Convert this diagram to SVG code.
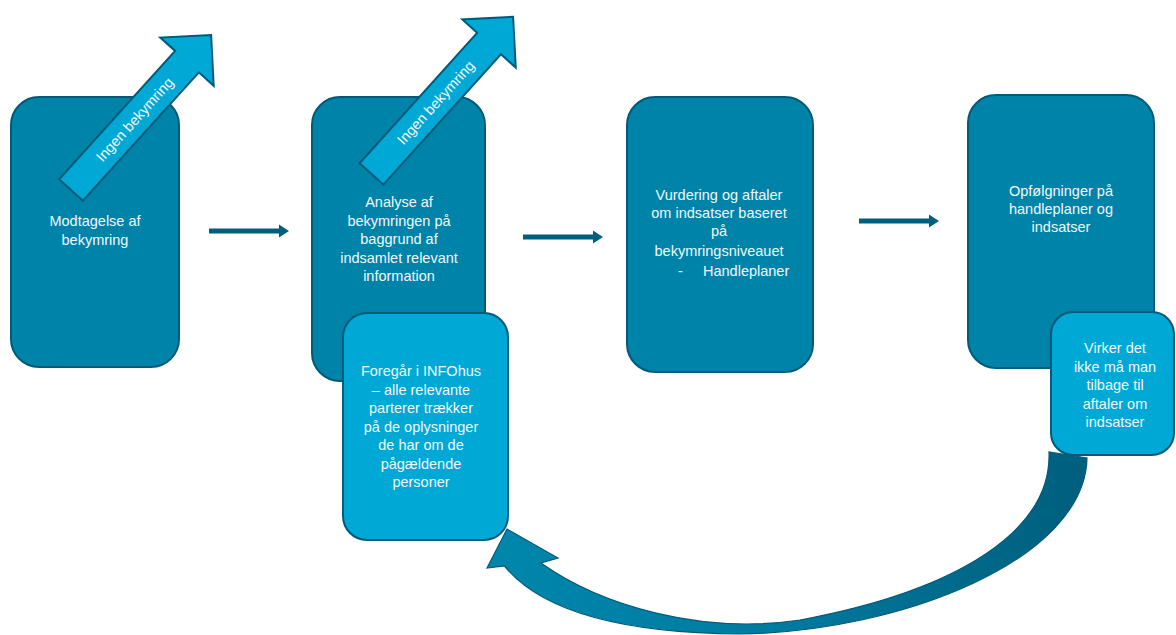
<svg xmlns="http://www.w3.org/2000/svg" width="1176" height="635" viewBox="0 0 1176 635">
  <defs>
    <style>
      .box { fill: #0083A9; stroke: #005A78; stroke-width: 2; }
      .sub { fill: #00A8D6; stroke: #005A78; stroke-width: 2; }
      .up { fill: #00A8D6; stroke: #005A78; stroke-width: 2; stroke-linejoin: miter; }
      .harrow { fill: #005F7F; }
      .t { font-family: "Liberation Sans", Arial, sans-serif; font-size: 14.5px; fill: #F2F8FB; text-anchor: middle; }
      .ts { font-family: "Liberation Sans", Arial, sans-serif; font-size: 14.5px; fill: #F2F8FB; }
    </style>
    <linearGradient id="curveGrad" x1="0" y1="0" x2="1" y2="0">
      <stop offset="0" stop-color="#0086AC"/>
      <stop offset="0.45" stop-color="#007CA2"/>
      <stop offset="1" stop-color="#005E7D"/>
    </linearGradient>
  </defs>

  <!-- curved feedback connector (behind boxes) -->
  <g id="connectors">
    <path d="M 1049 452 C 1052 530 960 590 800 620 C 700 635 600 605 541 563 L 558 558 L 507 529 L 487 568 L 504.5 566 C 540 610 620 633 740 634 C 900 632 1085 560 1087 458 Z" fill="url(#curveGrad)" stroke="#005A78" stroke-width="1.2"/>
    <polygon class="harrow" points="209,228.5 279,228.5 279,224.5 289,231 279,237.5 279,233.5 209,233.5"/>
    <polygon class="harrow" points="523,234.5 593,234.5 593,230.5 603,237 593,243.5 593,239.5 523,239.5"/>
    <polygon class="harrow" points="859,218.5 929,218.5 929,214.5 939,221 929,227.5 929,223.5 859,223.5"/>
  </g>

  <g id="node-modtagelse">
    <rect class="box" x="11" y="97" width="168" height="270" rx="28" ry="28"/>
    <text class="t" x="95" y="226">Modtagelse af</text>
    <text class="t" x="95" y="245">bekymring</text>
  </g>

  <g id="arrow-ingen-1" transform="translate(71,190) rotate(-47.9)">
    <polygon class="up" points="0,-16 173,-16 173,-36 209,0 173,36 173,16 0,16"/>
    <text class="t" x="95" y="5">Ingen bekymring</text>
  </g>

  <g id="node-analyse">
    <rect class="box" x="312" y="97" width="173" height="284" rx="28" ry="28"/>
    <text class="t" x="399" y="207">Analyse af</text>
    <text class="t" x="399" y="225.5">bekymringen på</text>
    <text class="t" x="399" y="244">baggrund af</text>
    <text class="t" x="399" y="262.5">indsamlet relevant</text>
    <text class="t" x="399" y="281">information</text>
  </g>

  <g id="arrow-ingen-2" transform="translate(371.5,174) rotate(-48)">
    <polygon class="up" points="0,-16 175.6,-16 175.6,-36 211.6,0 175.6,36 175.6,16 0,16"/>
    <text class="t" x="96" y="5">Ingen bekymring</text>
  </g>

  <g id="node-foregaar">
    <rect class="sub" x="343" y="313" width="165" height="227" rx="24" ry="24"/>
    <text class="t" x="421" y="376">Foregår i INFOhus</text>
    <text class="t" x="421" y="394.5">– alle relevante</text>
    <text class="t" x="421" y="413">parterer trækker</text>
    <text class="t" x="421" y="431.5">på de oplysninger</text>
    <text class="t" x="421" y="450">de har om de</text>
    <text class="t" x="421" y="468.5">pågældende</text>
    <text class="t" x="421" y="487">personer</text>
  </g>

  <g id="node-vurdering">
    <rect class="box" x="627" y="97" width="186" height="275" rx="28" ry="28"/>
    <text class="t" x="719" y="200">Vurdering og aftaler</text>
    <text class="t" x="719" y="218">om indsatser baseret</text>
    <text class="t" x="719" y="236">på</text>
    <text class="t" x="719" y="256">bekymringsniveauet</text>
    <text class="ts" y="276"><tspan x="678">-</tspan><tspan x="703">Handleplaner</tspan></text>
  </g>

  <g id="node-opfoelgning">
    <rect class="box" x="968" y="95" width="186" height="273" rx="28" ry="28"/>
    <text class="t" x="1061" y="196">Opfølgninger på</text>
    <text class="t" x="1061" y="214">handleplaner og</text>
    <text class="t" x="1061" y="232">indsatser</text>
  </g>

  <g id="node-virker">
    <rect class="sub" x="1051" y="312" width="123" height="143" rx="22" ry="22"/>
    <text class="t" x="1115" y="353">Virker det</text>
    <text class="t" x="1115" y="371.5">ikke må man</text>
    <text class="t" x="1115" y="390">tilbage til</text>
    <text class="t" x="1115" y="408.5">aftaler om</text>
    <text class="t" x="1115" y="427">indsatser</text>
  </g>
</svg>
